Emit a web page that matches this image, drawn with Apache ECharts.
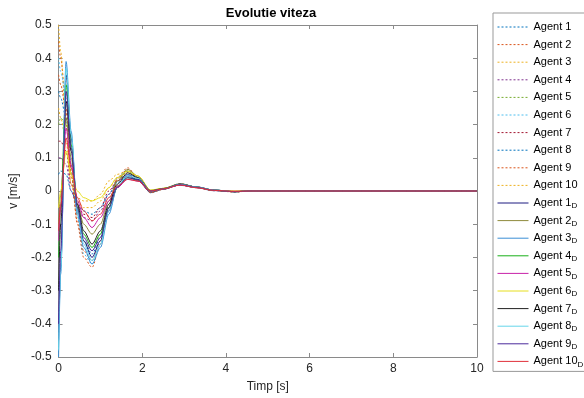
<!DOCTYPE html>
<html>
<head>
<meta charset="utf-8">
<script src="https://cdn.jsdelivr.net/npm/echarts@6/dist/echarts.min.js"></script>
<style>html,body{margin:0;padding:0;background:#fff}#c{width:584px;height:398px}</style>
</head>
<body>
<div id="c"></div>
<script>
var title = 'Evolutie viteza';
var xName = 'Timp [s]';
var yName = 'v [m/s]';
var xTicks = [0, 2, 4, 6, 8, 10];
var yTicks = [-0.5, -0.4, -0.3, -0.2, -0.1, 0, 0.1, 0.2, 0.3, 0.4, 0.5];
var time = [0, 0.05, 0.18, 0.3, 0.45, 0.6, 0.8, 1.0, 1.2, 1.4, 1.65, 1.9, 2.2, 2.5, 2.9, 3.3, 3.7, 4.2, 4.6, 10];

var agentNames = ['Agent 1','Agent 2','Agent 3','Agent 4','Agent 5','Agent 6','Agent 7','Agent 8','Agent 9','Agent 10'];
var desiredNames = ['Agent 1','Agent 2','Agent 3','Agent 4','Agent 5','Agent 6','Agent 7','Agent 8','Agent 9','Agent 10'];

var agent1  = [0.30, 0.28, 0.22, 0.08, -0.06, -0.15, -0.19, -0.14, -0.05, 0.03, 0.060, 0.040, 0.000, 0.005, 0.020, 0.012, 0.002, -0.002, 0, 0];
var agent2  = [0.45, 0.40, 0.25, 0.05, -0.10, -0.20, -0.23, -0.16, -0.05, 0.04, 0.070, 0.040, -0.005, 0.005, 0.022, 0.012, 0.002, -0.003, 0, 0];
var agent3  = [0.50, 0.42, 0.20, 0.04, -0.02, -0.03, -0.03, -0.01, 0.03, 0.05, 0.060, 0.040, 0.000, 0.008, 0.020, 0.010, 0.002, 0.000, 0, 0];
var agent4  = [0.10, 0.10, 0.08, 0.00, -0.05, -0.08, -0.09, -0.06, -0.01, 0.03, 0.050, 0.030, -0.005, 0.006, 0.018, 0.010, 0.001, -0.001, 0, 0];
var agent5  = [0.20, 0.22, 0.20, 0.06, -0.07, -0.15, -0.18, -0.13, -0.04, 0.03, 0.060, 0.035, -0.004, 0.006, 0.020, 0.011, 0.002, -0.002, 0, 0];
var agent6  = [0.40, 0.36, 0.28, 0.08, -0.08, -0.19, -0.22, -0.16, -0.05, 0.04, 0.065, 0.040, -0.006, 0.005, 0.022, 0.012, 0.002, -0.003, 0, 0];
var agent7  = [0.15, 0.15, 0.12, 0.02, -0.04, -0.07, -0.08, -0.05, 0.00, 0.03, 0.050, 0.030, -0.004, 0.006, 0.018, 0.010, 0.001, -0.001, 0, 0];
var agent8  = [0.05, 0.06, 0.05, 0.00, -0.04, -0.06, -0.07, -0.05, -0.01, 0.025, 0.045, 0.030, -0.003, 0.006, 0.017, 0.010, 0.001, -0.001, 0, 0];
var agent9  = [0.35, 0.32, 0.24, 0.05, -0.09, -0.18, -0.21, -0.15, -0.05, 0.035, 0.065, 0.040, -0.005, 0.005, 0.021, 0.012, 0.002, -0.003, 0, 0];
var agent10 = [0.25, 0.22, 0.15, 0.02, -0.03, -0.05, -0.05, -0.03, 0.01, 0.04, 0.055, 0.035, -0.002, 0.007, 0.019, 0.010, 0.002, 0.000, 0, 0];

var agent1D  = [-0.45, -0.23, 0.35, 0.16, -0.06, -0.15, -0.20, -0.15, -0.06, 0.010, 0.045, 0.035, 0.000, 0.006, 0.020, 0.012, 0.003, -0.002, 0, 0];
var agent2D  = [-0.10, -0.01, 0.22, 0.10, -0.04, -0.10, -0.13, -0.10, -0.03, 0.030, 0.065, 0.045, 0.002, 0.008, 0.022, 0.012, 0.003, -0.002, 0, 0];
var agent3D  = [-0.50, -0.25, 0.39, 0.18, -0.07, -0.17, -0.22, -0.17, -0.07, 0.010, 0.050, 0.040, 0.000, 0.006, 0.021, 0.012, 0.003, -0.002, 0, 0];
var agent4D  = [-0.20, -0.05, 0.32, 0.14, -0.05, -0.13, -0.17, -0.13, -0.05, 0.010, 0.040, 0.032, 0.000, 0.006, 0.019, 0.011, 0.002, -0.002, 0, 0];
var agent5D  = [-0.15, -0.05, 0.19, 0.08, -0.03, -0.08, -0.11, -0.08, -0.03, 0.010, 0.035, 0.030, 0.000, 0.006, 0.018, 0.010, 0.002, -0.002, 0, 0];
var agent6D  = [-0.05, 0.00, 0.12, 0.05, 0.00, -0.02, -0.03, -0.02, 0.01, 0.040, 0.060, 0.045, 0.003, 0.008, 0.020, 0.011, 0.002, -0.001, 0, 0];
var agent7D  = [-0.30, -0.10, 0.27, 0.12, -0.04, -0.12, -0.16, -0.12, -0.04, 0.020, 0.055, 0.040, 0.001, 0.007, 0.021, 0.012, 0.003, -0.002, 0, 0];
var agent8D  = [-0.48, -0.24, 0.37, 0.17, -0.06, -0.16, -0.21, -0.16, -0.06, 0.015, 0.045, 0.038, 0.000, 0.006, 0.020, 0.012, 0.003, -0.002, 0, 0];
var agent9D  = [-0.40, -0.18, 0.30, 0.13, -0.05, -0.14, -0.18, -0.14, -0.05, 0.012, 0.040, 0.034, 0.000, 0.006, 0.019, 0.011, 0.002, -0.002, 0, 0];
var agent10D = [-0.12, -0.04, 0.16, 0.07, -0.02, -0.06, -0.09, -0.07, -0.02, 0.015, 0.035, 0.030, 0.000, 0.006, 0.018, 0.010, 0.002, -0.001, 0, 0];

var agentValues = [agent1, agent2, agent3, agent4, agent5, agent6, agent7, agent8, agent9, agent10];
var desiredValues = [agent1D, agent2D, agent3D, agent4D, agent5D, agent6D, agent7D, agent8D, agent9D, agent10D];

var dashedColors = ['#0072bd','#d95319','#edb120','#7e2f8e','#77ac30','#4dbeee','#a2142f','#0072bd','#d95319','#edb120'];
var solidColors = ['#1c1a80','#8f8a3c','#3a8fd6','#19b019','#c822a8','#e6de1e','#202020','#66d6ea','#4a2a9c','#e0303a'];

function pairs(vals){ return time.map(function(t,i){ return [t, vals[i]]; }); }

var series = [];
var legendData = [];
agentValues.forEach(function(v,i){
  series.push({name: agentNames[i], type:'line', xAxisIndex:0, yAxisIndex:0, data: pairs(v), showSymbol:false, symbol:'none',
    smooth:0.3, smoothMonotone:'x', lineStyle:{width:1, type:[2,2], color: dashedColors[i]}, itemStyle:{color:dashedColors[i]}, z:2});
  legendData.push(agentNames[i]);
});
desiredValues.forEach(function(v,i){
  var nm = desiredNames[i] + ' D';
  series.push({name: nm, type:'line', xAxisIndex:0, yAxisIndex:0, data: pairs(v), showSymbol:false, symbol:'none',
    smooth:0.3, smoothMonotone:'x', lineStyle:{width:1, type:'solid', color: solidColors[i]}, itemStyle:{color:solidColors[i]}, z:3});
  legendData.push(nm);
});

var axisColor = '#8a8a8a';
var textColor = '#262626';
var font = 'Liberation Sans, Arial, sans-serif';

var chart = echarts.init(document.getElementById('c'));
chart.setOption({
  animation:false,
  backgroundColor:'#fff',
  title:{text:title, left:266, textAlign:'center', top:2, textStyle:{fontFamily:font, fontSize:13, fontWeight:'bold', color:'#000'}},
  grid:{left:55, right:107, top:25, bottom:40, containLabel:false},
  legend:{
    data: legendData, orient:'vertical', left:493, top:13, itemWidth:31, itemHeight:10, itemGap:3.6,
    padding:[7,3,3,4], borderColor:'#999', borderWidth:1, backgroundColor:'#fff',
    itemStyle:{opacity:0},
    lineStyle:{width:1},
    formatter:function(n){ if(n.slice(-2)===' D'){ return n.slice(0,-2) + '{sub|D}'; } return n; },
    textStyle:{fontFamily:font, fontSize:11, color:'#000', lineHeight:14,
      rich:{sub:{fontSize:8, fontFamily:font, color:'#000', lineHeight:6, verticalAlign:'bottom'}}}
  },
  xAxis:[{
    type:'value', min:0, max:10, interval:2, position:'bottom', name:xName, nameLocation:'middle', nameGap:24,
    nameTextStyle:{fontFamily:font, fontSize:12, color:textColor},
    axisLine:{onZero:false, lineStyle:{color:axisColor}}, axisTick:{inside:true, length:4, lineStyle:{color:axisColor}},
    axisLabel:{fontFamily:font, fontSize:12, color:textColor, margin:6}, splitLine:{show:false}
  },{
    type:'value', min:0, max:10, interval:2, position:'top',
    axisLine:{onZero:false, lineStyle:{color:axisColor}}, axisTick:{inside:true, length:4, lineStyle:{color:axisColor}},
    axisLabel:{show:false}, splitLine:{show:false}
  }],
  yAxis:[{
    type:'value', min:-0.5, max:0.5, interval:0.1, position:'left', name:yName, nameLocation:'middle', nameGap:38,
    nameTextStyle:{fontFamily:font, fontSize:12, color:textColor},
    axisLine:{show:true, onZero:false, lineStyle:{color:axisColor}}, axisTick:{show:true, inside:true, length:4, lineStyle:{color:axisColor}},
    axisLabel:{fontFamily:font, fontSize:12, color:textColor, margin:7, formatter:function(v){ var r=Math.round(v*10)/10; return r===0?'0':String(r); }},
    splitLine:{show:false}
  },{
    type:'value', min:-0.5, max:0.5, interval:0.1, position:'right',
    axisLine:{show:true, onZero:false, lineStyle:{color:axisColor}}, axisTick:{show:true, inside:true, length:4, lineStyle:{color:axisColor}},
    axisLabel:{show:false}, splitLine:{show:false}
  }],
  series: series
});
</script>
</body>
</html>
